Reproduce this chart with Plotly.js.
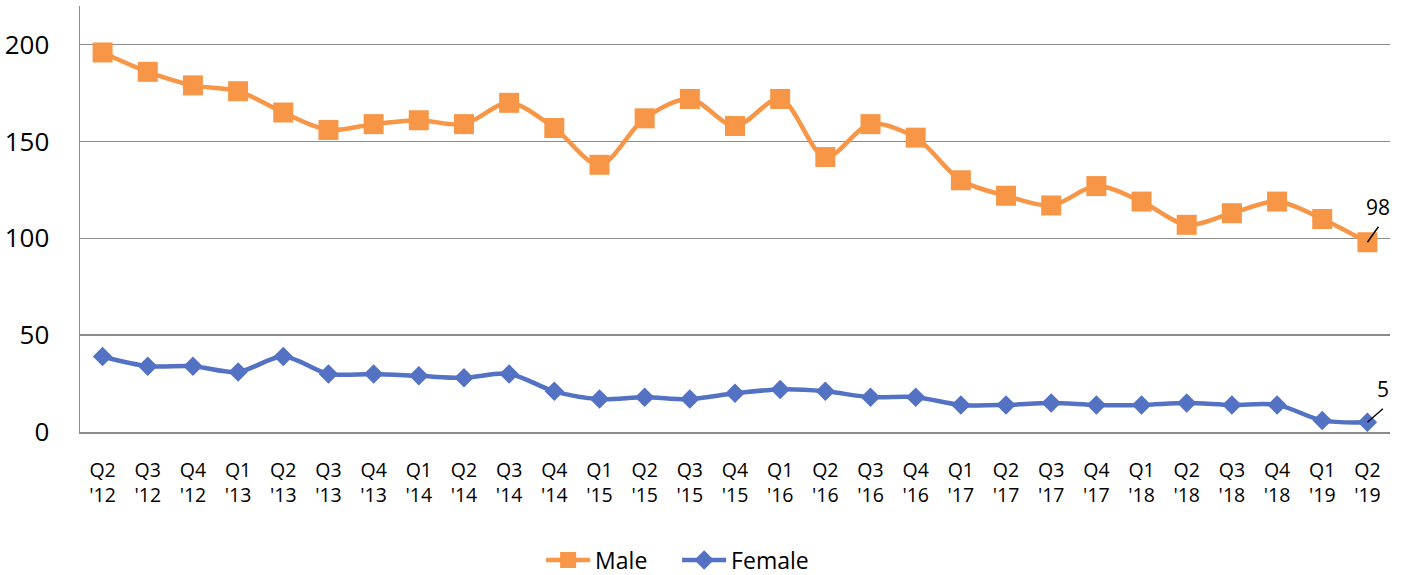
<!DOCTYPE html>
<html>
<head>
<meta charset="utf-8">
<script src="https://cdn.plot.ly/plotly-3.0.1.min.js"></script>
<style>html,body{margin:0;padding:0;background:#fff;}#chart{width:1409px;height:575px;}</style>
</head>
<body>
<div id="chart"></div>
<script>
const quarters = ["Q2<br>'12","Q3<br>'12","Q4<br>'12","Q1<br>'13","Q2<br>'13","Q3<br>'13","Q4<br>'13",
  "Q1<br>'14","Q2<br>'14","Q3<br>'14","Q4<br>'14","Q1<br>'15","Q2<br>'15","Q3<br>'15","Q4<br>'15",
  "Q1<br>'16","Q2<br>'16","Q3<br>'16","Q4<br>'16","Q1<br>'17","Q2<br>'17","Q3<br>'17","Q4<br>'17",
  "Q1<br>'18","Q2<br>'18","Q3<br>'18","Q4<br>'18","Q1<br>'19","Q2<br>'19"];
const male = [196,186,179,176,165,156,159,161,159,170,157,138,162,172,158,172,142,159,152,130,122,117,127,119,107,113,119,110,98];
const female = [39,34,34,31,39,30,30,29,28,30,21,17,18,17,20,22,21,18,18,14,14,15,14,14,15,14,14,6,5];
const yTicks = [0,50,100,150,200];

const FONT = "Open Sans, Noto Sans, sans-serif";
const idx = quarters.map((_, i) => i);
const lastI = idx[idx.length - 1];

const traces = [
  {x: idx, y: male, name: "Male", type: "scatter", mode: "lines+markers",
   line: {color: "#F79646", width: 4.5, shape: "spline", smoothing: 0.9},
   marker: {symbol: "square", size: 20, color: "#F79646"}},
  {x: idx, y: female, name: "Female", type: "scatter", mode: "lines+markers",
   line: {color: "#5472C4", width: 4.5, shape: "spline", smoothing: 0.9},
   marker: {symbol: "diamond", size: 15, color: "#5472C4"}}
];

function leader(yv, dx, dy) {
  return {type: "line", xref: "x", yref: "y", xsizemode: "pixel", ysizemode: "pixel",
          xanchor: lastI, yanchor: yv, x0: 0, y0: 0, x1: dx, y1: dy,
          line: {color: "#000", width: 1.4}, layer: "above"};
}

const layout = {
  width: 1409, height: 575,
  margin: {l: 80, r: 19, t: 6, b: 143, autoexpand: false},
  paper_bgcolor: "#fff", plot_bgcolor: "#fff",
  font: {family: FONT, color: "#000"},
  showlegend: true,
  legend: {orientation: "h", x: 0.352, xanchor: "left", yref: "container", y: 0.026, yanchor: "middle",
           font: {size: 23, family: FONT, color: "#000"}, traceorder: "normal",
           itemwidth: 44, entrywidth: 77},
  xaxis: {
    range: [-0.5, lastI + 0.5], tickmode: "array", tickvals: idx, ticktext: quarters,
    showgrid: false, zeroline: false, showline: true, linecolor: "#8c8c8c", linewidth: 1.5,
    ticks: "outside", ticklen: 20, tickcolor: "rgba(0,0,0,0)", automargin: false,
    tickfont: {size: 19.5, family: FONT, color: "#000"}, tickangle: 0, fixedrange: true
  },
  yaxis: {
    range: [0, 220], tickmode: "array", tickvals: yTicks, ticktext: yTicks.map(String),
    showgrid: true, gridcolor: "#8c8c8c", gridwidth: 1.5, zeroline: false,
    showline: true, linecolor: "#8c8c8c", linewidth: 1.5, automargin: false,
    ticks: "outside", ticklen: 24, tickcolor: "rgba(0,0,0,0)",
    tickfont: {size: 26, family: FONT, color: "#000"}, fixedrange: true
  },
  shapes: [leader(male[lastI], 11, 15.5), leader(female[lastI], 15.5, 13.5)],
  annotations: [
    {x: lastI, y: male[lastI], xref: "x", yref: "y", text: String(male[lastI]),
     showarrow: false, xshift: 11, yshift: 35, font: {size: 21, family: FONT, color: "#000"}},
    {x: lastI, y: female[lastI], xref: "x", yref: "y", text: String(female[lastI]),
     showarrow: false, xshift: 16, yshift: 33, font: {size: 21, family: FONT, color: "#000"}}
  ]
};

Plotly.newPlot("chart", traces, layout, {displayModeBar: false, staticPlot: true});
</script>
</body>
</html>
